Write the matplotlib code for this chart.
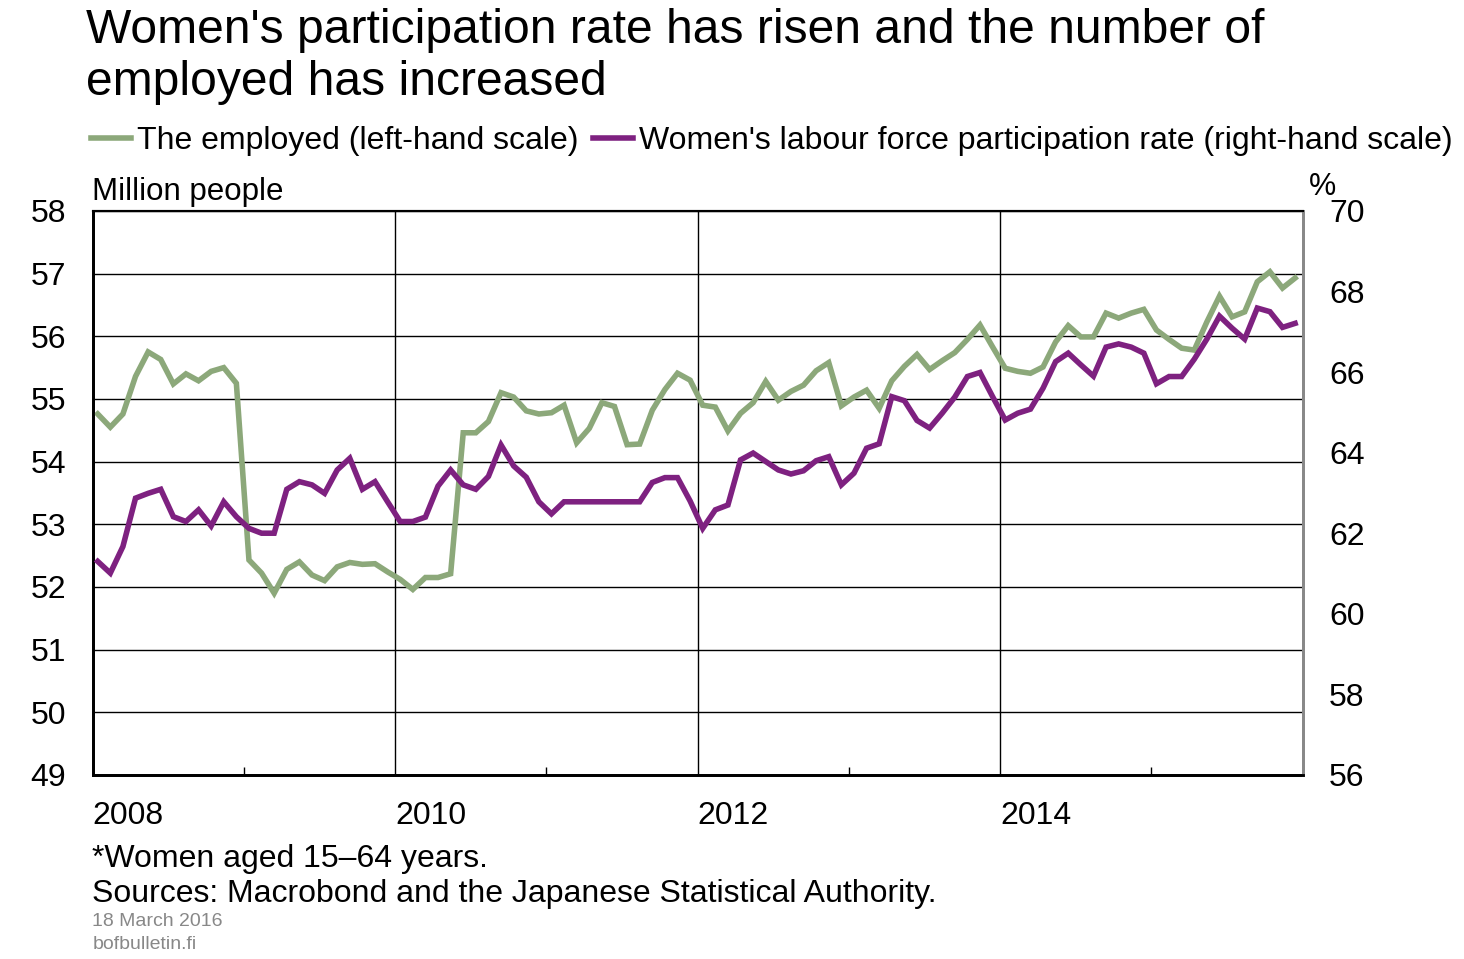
import numpy as np
import matplotlib
matplotlib.use('Agg')
import matplotlib.pyplot as plt
from matplotlib.ticker import FixedLocator, NullFormatter

plt.rcParams['font.family'] = ['Liberation Sans', 'DejaVu Sans']

# Monthly data, Jan 2008 - Dec 2015
employed = [
    54.76, 54.55, 54.76, 55.36, 55.75, 55.63, 55.24, 55.40, 55.29, 55.44, 55.50, 55.25,
    52.43, 52.22, 51.90, 52.28, 52.40, 52.19, 52.10, 52.32, 52.39, 52.36, 52.37, 52.24,
    52.12, 51.96, 52.15, 52.15, 52.21, 54.46, 54.46, 54.64, 55.10, 55.03, 54.81, 54.76,
    54.78, 54.90, 54.30, 54.53, 54.94, 54.88, 54.27, 54.28, 54.82, 55.15, 55.41, 55.30,
    54.90, 54.87, 54.49, 54.77, 54.94, 55.28, 54.98, 55.12, 55.22, 55.45, 55.58, 54.89,
    55.03, 55.14, 54.85, 55.29, 55.52, 55.71, 55.47, 55.61, 55.74, 55.95, 56.18, 55.83,
    55.49, 55.44, 55.41, 55.51, 55.91, 56.17, 55.99, 55.99, 56.37, 56.29, 56.37, 56.43,
    56.10, 55.95, 55.81, 55.78, 56.23, 56.64, 56.31, 56.39, 56.87, 57.03, 56.77, 56.93,
]
participation = [
    61.30, 61.01, 61.67, 62.87, 62.99, 63.09, 62.41, 62.29, 62.58, 62.18, 62.78, 62.41,
    62.12, 62.00, 62.00, 63.09, 63.28, 63.20, 62.99, 63.57, 63.86, 63.09, 63.28, 62.78,
    62.29, 62.29, 62.40, 63.17, 63.57, 63.20, 63.09, 63.41, 64.19, 63.67, 63.39, 62.78,
    62.48, 62.78, 62.78, 62.78, 62.78, 62.78, 62.78, 62.78, 63.26, 63.38, 63.38, 62.80,
    62.12, 62.58, 62.70, 63.82, 63.99, 63.78, 63.57, 63.47, 63.55, 63.80, 63.90, 63.20,
    63.49, 64.11, 64.22, 65.39, 65.29, 64.80, 64.61, 64.98, 65.38, 65.89, 65.99, 65.39,
    64.81, 64.98, 65.08, 65.60, 66.26, 66.47, 66.18, 65.90, 66.62, 66.70, 66.62, 66.47,
    65.71, 65.89, 65.89, 66.32, 66.82, 67.39, 67.09, 66.82, 67.59, 67.50, 67.11, 67.21,
]
year_ticks = [2008, 2010, 2012, 2014]
left_ticks = list(range(49, 59))
right_ticks = list(range(56, 71, 2))

green = '#8CA87A'
purple = '#7E2180'

# months placed a little inside each month
months = 2008 + (np.arange(len(employed)) + 0.4) / 12

fig = plt.figure(figsize=(14.64, 9.59), dpi=100)
ax = fig.add_axes([0.0633, 0.192, 0.8265, 0.588])
ax2 = ax.twinx()

l1, = ax.plot(months, employed, color=green, lw=4.0, solid_joinstyle='miter', zorder=3)
l2, = ax2.plot(months, participation, color=purple, lw=4.0, solid_joinstyle='miter', zorder=3)

ax.set_xlim(2008, 2016)
ax.set_ylim(49, 58)
ax2.set_ylim(56, 70)

ax.yaxis.set_major_locator(FixedLocator(left_ticks))
ax2.yaxis.set_major_locator(FixedLocator(right_ticks))
ax.xaxis.set_major_locator(FixedLocator(year_ticks))
ax.xaxis.set_minor_locator(FixedLocator([2009, 2011, 2013, 2015]))
ax.xaxis.set_minor_formatter(NullFormatter())

ax.grid(True, axis='y', color='black', lw=1.0)
ax.grid(True, axis='x', which='major', color='black', lw=1.0)
ax.set_axisbelow(True)

ax.tick_params(axis='y', length=0, labelsize=23, pad=19)
ax2.tick_params(axis='y', length=0, labelsize=23, pad=19)
ax.tick_params(axis='x', which='major', length=0, labelsize=23, pad=19)
ax.tick_params(axis='x', which='minor', direction='in', length=6, width=1, color='black')
for lab in ax.get_xticklabels():
    lab.set_horizontalalignment('left')

for a in (ax, ax2):
    a.spines['left'].set_linewidth(2)
    a.spines['bottom'].set_linewidth(2)
    a.spines['top'].set_linewidth(1.5)
    a.spines['right'].set_color('#888888')
    a.spines['right'].set_linewidth(2)

fig.text(0.059, 0.992, "Women's participation rate has risen and the number of\nemployed has increased",
         fontsize=34.6, va='top', ha='left', linespacing=1.22)

fig.legend([l1, l2], ['The employed (left-hand scale)',
                      "Women's labour force participation rate (right-hand scale)"],
           loc='center left', bbox_to_anchor=(0.0424, 0.853), ncol=2, frameon=False,
           fontsize=23, handlelength=1.25, handletextpad=0.2, columnspacing=0.45)

fig.text(0.063, 0.800, 'Million people', fontsize=22.5, va='center', ha='left')
fig.text(0.894, 0.805, '%', fontsize=22, va='center', ha='left')

fig.text(0.063, 0.104, '*Women aged 15\u201364 years.', fontsize=23, va='center', ha='left')
fig.text(0.063, 0.068, 'Sources: Macrobond and the Japanese Statistical Authority.', fontsize=23,
         va='center', ha='left')
fig.text(0.063, 0.039, '18 March 2016', fontsize=14, color='#888888', va='center', ha='left')
fig.text(0.063, 0.015, 'bofbulletin.fi', fontsize=14, color='#888888', va='center', ha='left')

fig.savefig('out.png', dpi=100)
